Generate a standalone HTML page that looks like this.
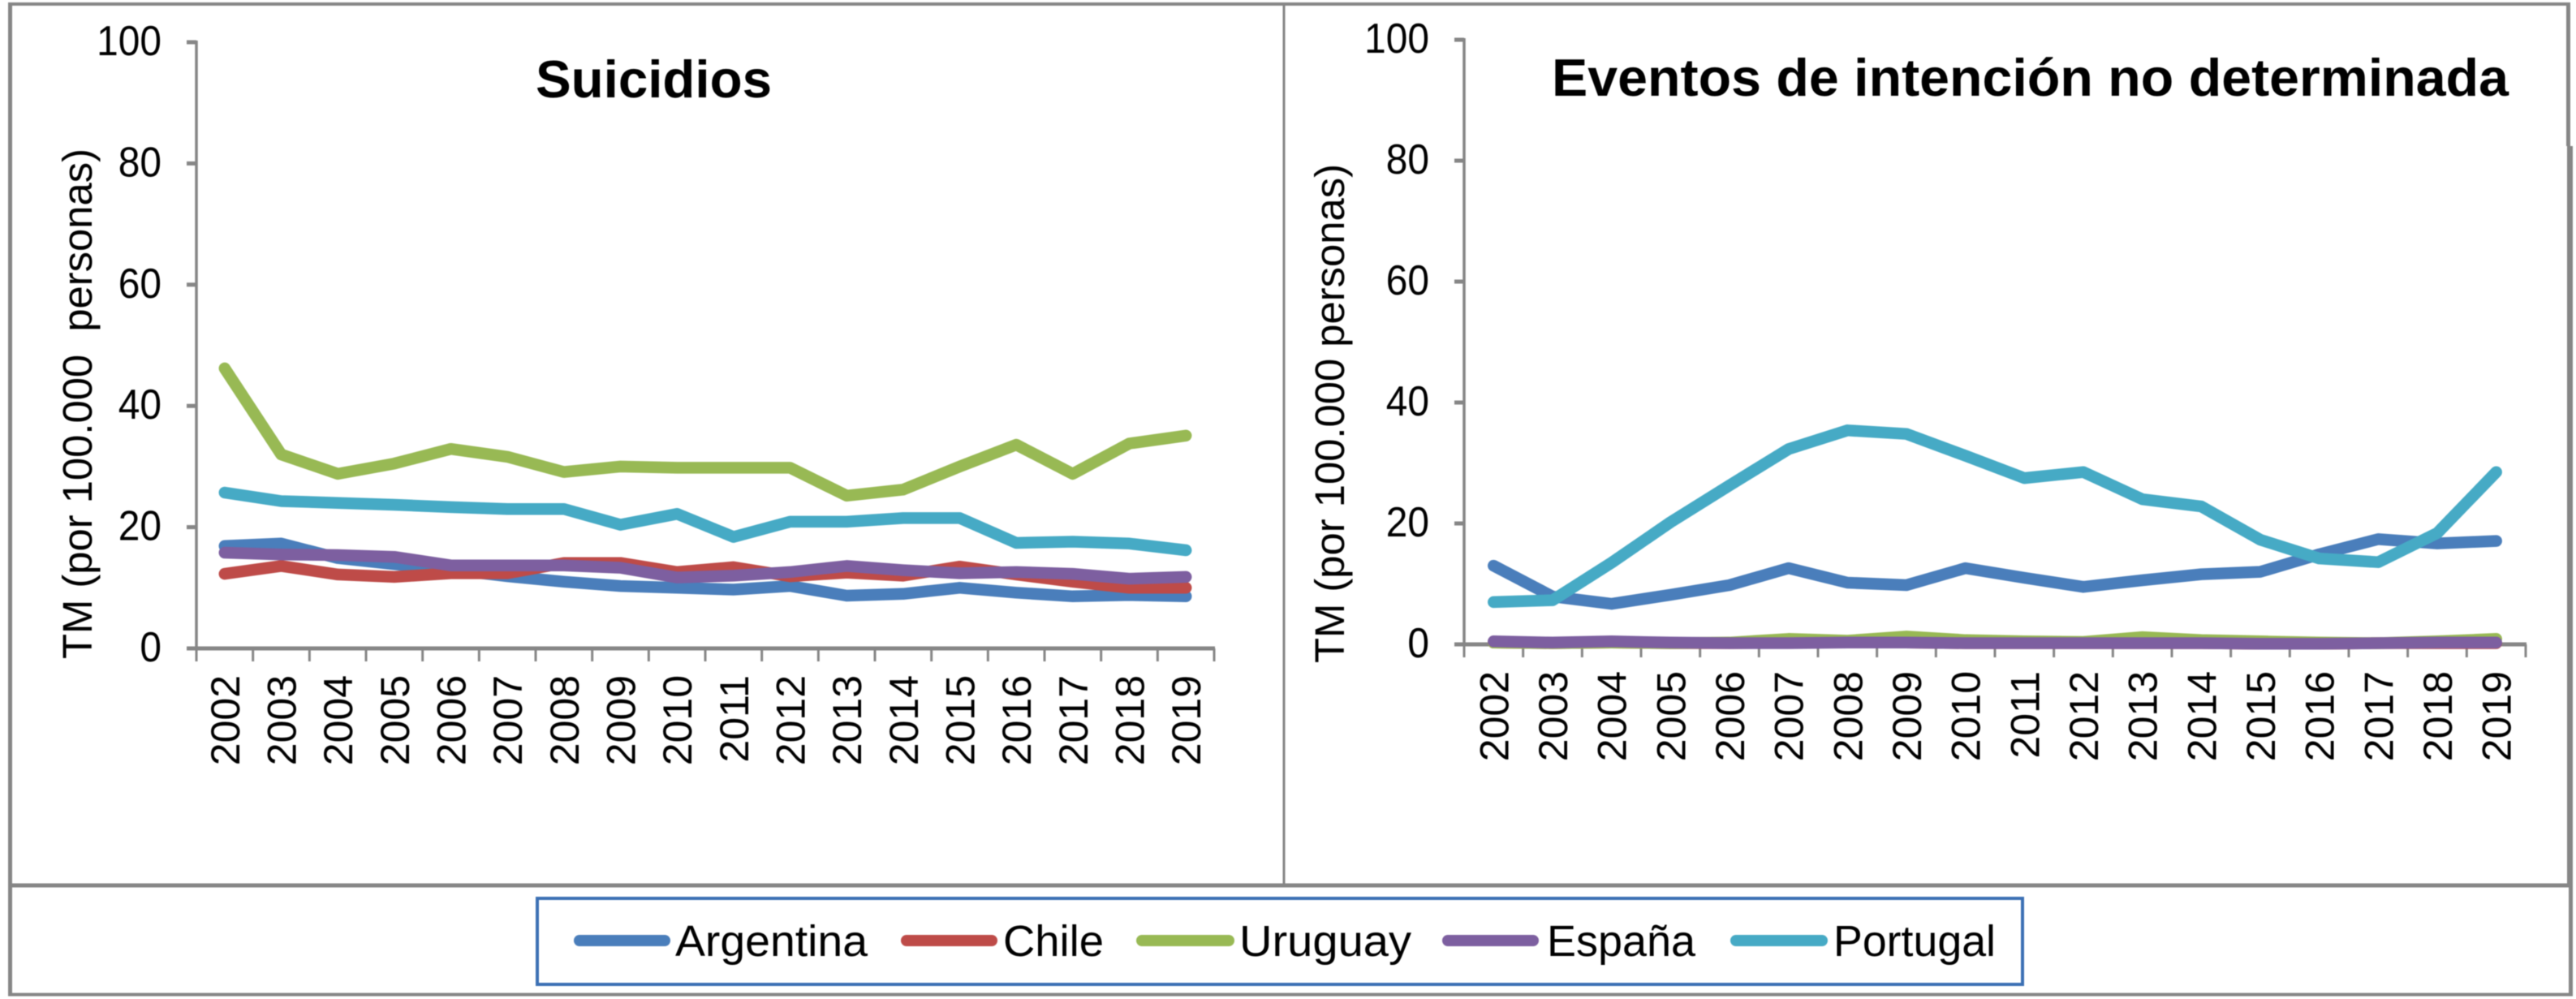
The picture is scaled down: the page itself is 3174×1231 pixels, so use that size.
<!DOCTYPE html>
<html lang="es">
<head>
<meta charset="utf-8">
<title>Suicidios y eventos de intención no determinada</title>
<style>
html,body{margin:0;padding:0;background:#fff;width:3174px;height:1231px;overflow:hidden}
svg{display:block;filter:blur(.6px)}
text{font-family:"Liberation Sans",Arial,sans-serif;fill:#000;white-space:pre}
</style>
</head>
<body>
<svg id="figure" xmlns="http://www.w3.org/2000/svg" width="3174" height="1231" viewBox="0 0 3174 1231">
  <rect width="3174" height="1231" fill="#fff"/>
  <g stroke="#868686" fill="none">
    <line x1="10" y1="5" x2="3167" y2="5" stroke-width="4"/>
    <line x1="12.5" y1="3" x2="12.5" y2="1227" stroke-width="5"/>
    <line x1="10" y1="1225.5" x2="3170" y2="1225.5" stroke-width="4"/>
    <line x1="3164.5" y1="3" x2="3164.5" y2="180" stroke-width="5"/>
    <line x1="3166.5" y1="180" x2="3166.5" y2="1091" stroke-width="7"/>
    <line x1="3167.5" y1="1091" x2="3167.5" y2="1227" stroke-width="5"/>
  </g>
  <line x1="1582" y1="5" x2="1582" y2="1091" stroke="#868686" stroke-width="3"/>
  <line x1="12" y1="1091" x2="3167" y2="1091" stroke="#868686" stroke-width="5"/>
  <g id="left-chart"></g>
  <g id="right-chart"></g>
  <text x="660" y="120" font-size="65" font-weight="bold" textLength="291" lengthAdjust="spacingAndGlyphs">Suicidios</text>
  <text x="1912" y="118" font-size="65" font-weight="bold" textLength="1179" lengthAdjust="spacingAndGlyphs">Eventos de intención no determinada</text>
  <text transform="translate(113,812) rotate(-90)" font-size="51" textLength="629" lengthAdjust="spacingAndGlyphs">TM (por 100.000  personas)</text>
  <text transform="translate(1656,817) rotate(-90)" font-size="51" textLength="615" lengthAdjust="spacingAndGlyphs">TM (por 100.000 personas)</text>
  <g>
    <rect x="662" y="1107" width="1830" height="106" fill="#fff" stroke="#3C70B4" stroke-width="4"/>
    <line x1="714" y1="1159" x2="819" y2="1159" stroke="#4A7EBB" stroke-width="14" stroke-linecap="round"/>
    <text x="832" y="1178" font-size="54" textLength="237" lengthAdjust="spacingAndGlyphs">Argentina</text>
    <line x1="1117" y1="1159" x2="1222" y2="1159" stroke="#BE4B48" stroke-width="14" stroke-linecap="round"/>
    <text x="1236" y="1178" font-size="54" textLength="124" lengthAdjust="spacingAndGlyphs">Chile</text>
    <line x1="1407" y1="1159" x2="1514" y2="1159" stroke="#98B954" stroke-width="14" stroke-linecap="round"/>
    <text x="1527" y="1178" font-size="54" textLength="212" lengthAdjust="spacingAndGlyphs">Uruguay</text>
    <line x1="1784" y1="1159" x2="1889" y2="1159" stroke="#7D5FA0" stroke-width="14" stroke-linecap="round"/>
    <text x="1906" y="1178" font-size="54" textLength="183" lengthAdjust="spacingAndGlyphs">España</text>
    <line x1="2139" y1="1159" x2="2245" y2="1159" stroke="#46AAC5" stroke-width="14" stroke-linecap="round"/>
    <text x="2259" y="1178" font-size="54" textLength="200" lengthAdjust="spacingAndGlyphs">Portugal</text>
  </g>
</svg>
<script>
const years = ["2002","2003","2004","2005","2006","2007","2008","2009","2010","2011","2012","2013","2014","2015","2016","2017","2018","2019"];
const yTicks = [0,20,40,60,80,100];

const seriesNames = ["Argentina","Chile","Uruguay","España","Portugal"];
const seriesColors = ["#4A7EBB","#BE4B48","#98B954","#7D5FA0","#46AAC5"];

const suicidiosArgentina = [16.9,17.3,14.9,13.9,13.0,11.9,11.0,10.3,10.0,9.7,10.3,8.7,9.0,10.0,9.2,8.6,8.8,8.6];
const suicidiosChile     = [12.3,13.6,12.2,11.8,12.4,12.4,14.1,14.1,12.6,13.4,11.9,12.5,12.0,13.5,12.2,11.0,10.0,10.0];
const suicidiosUruguay   = [46.2,32.0,28.8,30.5,32.9,31.6,29.1,30.0,29.8,29.8,29.8,25.2,26.2,30.0,33.6,28.8,33.8,35.1];
const suicidiosEspana    = [15.8,15.5,15.4,15.1,13.7,13.7,13.7,13.3,11.7,12.0,12.6,13.6,12.9,12.4,12.6,12.3,11.5,11.8];
const suicidiosPortugal  = [25.7,24.3,24.0,23.7,23.3,23.0,23.0,20.4,22.2,18.4,20.9,20.9,21.5,21.5,17.4,17.6,17.3,16.2];

const eventosArgentina = [13.0,7.9,6.7,8.2,9.8,12.6,10.2,9.8,12.6,11.0,9.5,10.6,11.6,12.0,14.9,17.4,16.7,17.1];
const eventosChile     = [0.3,0.2,0.3,0.2,0.2,0.3,0.3,0.3,0.2,0.2,0.2,0.2,0.2,0.1,0.1,0.2,0.2,0.2];
const eventosUruguay   = [0.3,0.2,0.3,0.2,0.3,0.9,0.6,1.3,0.7,0.5,0.4,1.2,0.7,0.5,0.3,0.2,0.5,0.9];
const eventosEspana    = [0.5,0.3,0.5,0.3,0.2,0.2,0.3,0.3,0.2,0.2,0.2,0.2,0.2,0.1,0.1,0.2,0.3,0.3];
const eventosPortugal  = [7.0,7.3,13.5,20.2,26.3,32.3,35.4,34.8,31.2,27.5,28.5,24.0,22.8,17.3,14.2,13.6,18.4,28.5];

const suicidiosSeries = [suicidiosArgentina,suicidiosChile,suicidiosUruguay,suicidiosEspana,suicidiosPortugal];
const eventosSeries = [eventosArgentina,eventosChile,eventosUruguay,eventosEspana,eventosPortugal];

const NS = "http://www.w3.org/2000/svg";
const AXIS = "#868686";

function mk(parent, tag, attrs, txt) {
  const el = document.createElementNS(NS, tag);
  for (const k in attrs) el.setAttribute(k, attrs[k]);
  if (txt !== undefined) el.textContent = txt;
  parent.appendChild(el);
  return el;
}

function drawChart(root, series, cfg) {
  const step = (cfg.xEnd - cfg.xStart) / years.length;
  const xPos = i => cfg.xStart + step * (i + 0.5);
  const yPos = v => cfg.y0 - (v / 100) * (cfg.y0 - cfg.y100);

  const yAxis = mk(root, "line", {x1: cfg.xStart, x2: cfg.xStart, y1: yPos(100) - 2, y2: yPos(0), stroke: AXIS, "stroke-width": 3.5});
  
  
  const xAxis = mk(root, "line", {x1: cfg.xStart - 12, x2: cfg.xEnd + 1, y1: yPos(0), y2: yPos(0), stroke: AXIS, "stroke-width": 5});
  
  

  yTicks.forEach(t => {
    const y = yPos(t);
    const tick = mk(root, "line", {x1: cfg.xStart - 12, x2: cfg.xStart, y1: y, y2: y, stroke: AXIS, "stroke-width": 5});
    
    
    const label = mk(root, "text", {transform: "translate(" + (cfg.xStart - 43) + "," + (y + 16) + ") scale(.92,1)", "font-size": 52, "text-anchor": "end"}, String(t));
    
    
  });

  for (let i = 0; i <= years.length; i++) {
    const x = cfg.xStart + step * i;
    const tick = mk(root, "line", {x1: x, x2: x, y1: yPos(0), y2: yPos(0) + 16, stroke: AXIS, "stroke-width": 3});
    
    
  }

  years.forEach((yr, i) => {
    const label = mk(root, "text", {transform: "translate(" + (xPos(i) + 18) + "," + cfg.labelTop + ") rotate(-90)", "font-size": 50, "text-anchor": "end"}, yr);
    
    
  });

  series.forEach((vals, s) => {
    const d = vals.map((v, i) => (i ? "L" : "M") + xPos(i).toFixed(1) + " " + yPos(v).toFixed(1)).join(" ");
    const line = mk(root, "path", {d: d, fill: "none", stroke: seriesColors[s], "stroke-width": 14.5, "stroke-linejoin": "round", "stroke-linecap": "round"});
    
    
  });
}

drawChart(document.getElementById("left-chart"), suicidiosSeries, {xStart: 242, xEnd: 1496, y0: 799, y100: 52, labelTop: 832});
drawChart(document.getElementById("right-chart"), eventosSeries, {xStart: 1804, xEnd: 3112, y0: 794, y100: 49, labelTop: 827});
</script>
</body>
</html>
